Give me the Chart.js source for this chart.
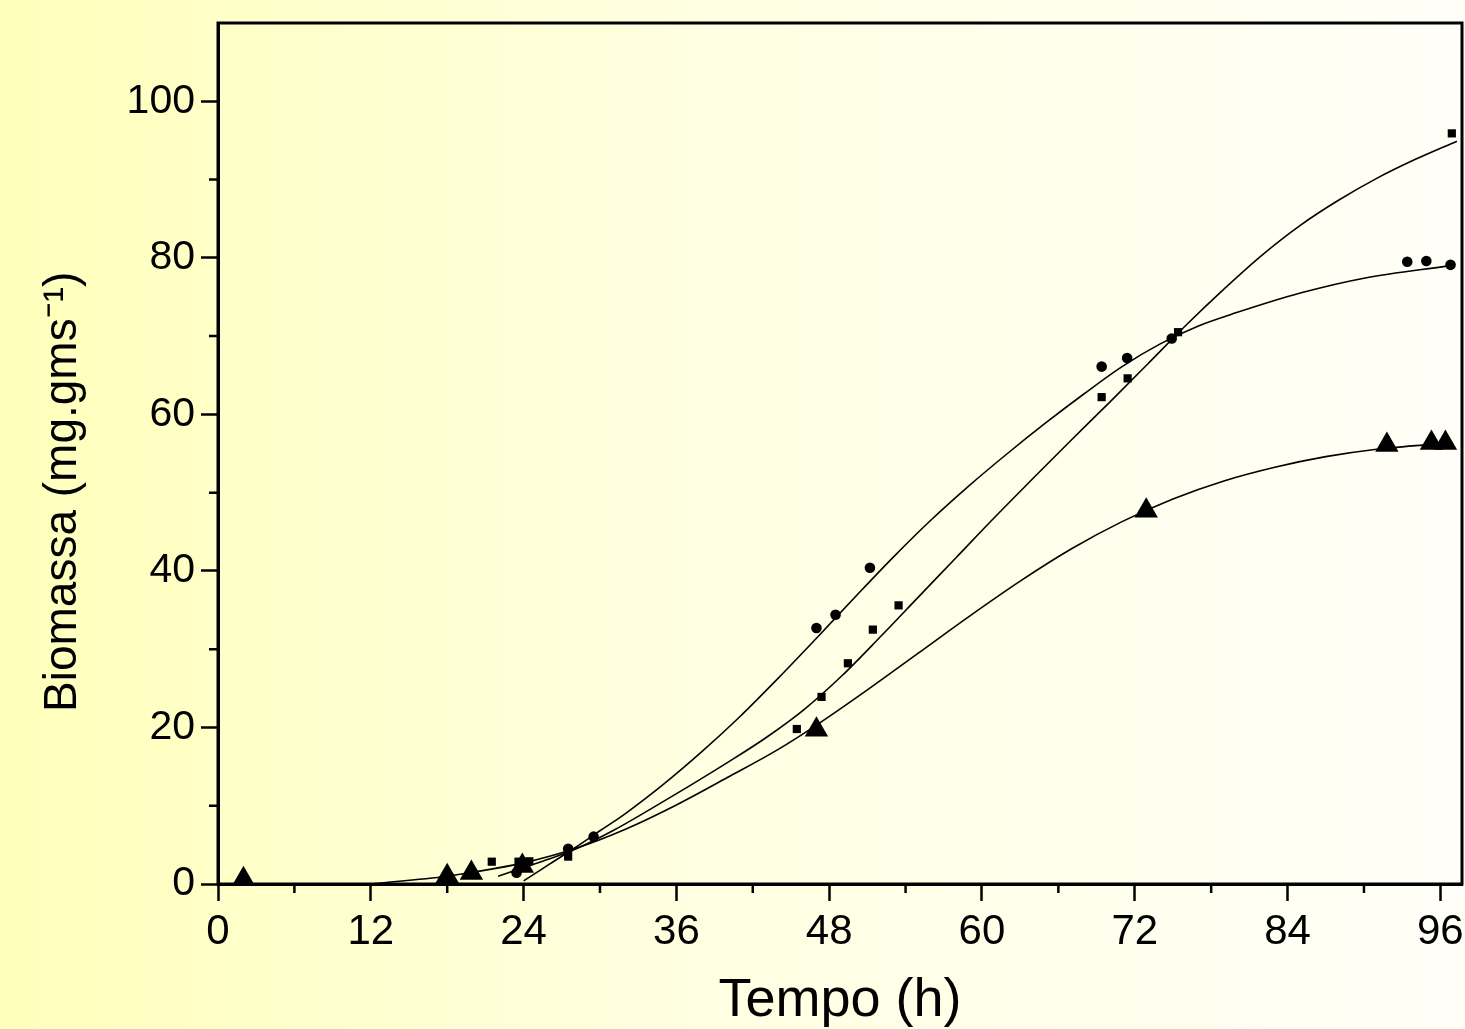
<!DOCTYPE html>
<html><head><meta charset="utf-8">
<script src="https://cdn.jsdelivr.net/npm/chart.js@4.4.1/dist/chart.umd.min.js"></script>
<style>
html,body{margin:0;padding:0;}
body{width:1465px;height:1029px;overflow:hidden;background:linear-gradient(90deg,#ffffbb 0%,#ffffe0 45%,#fffff8 100%);}
#wrap{position:relative;width:1465px;height:1029px;}
</style></head><body>
<div id="wrap"><canvas id="c" width="1465" height="1029"></canvas></div>
<script>
// ---- observed points ----
const circleX = [23.45, 27.5, 29.5, 47.0, 48.5, 51.2, 69.4, 71.4, 74.9, 93.4, 94.9, 96.8];
const circleY = [1.45, 4.5, 6.05, 32.7, 34.4, 40.4, 66.1, 67.2, 69.7, 79.5, 79.6, 79.1];
const squareX = [21.5, 23.6, 24.45, 27.5, 45.46, 47.4, 49.47, 51.43, 53.45, 69.4, 71.44, 75.4, 96.9];
const squareY = [2.85, 2.85, 2.9, 3.5, 19.8, 23.9, 28.2, 32.5, 35.6, 62.2, 64.6, 70.5, 95.9];
const triX = [2.0, 18.0, 19.9, 23.9, 47.0, 72.9, 91.8, 95.3, 96.4];
const triY = [0.6, 1.0, 1.4, 2.3, 19.7, 47.7, 56.1, 56.35, 56.35];

// ---- fitted curves ----
const fitAX = [24, 26, 28, 30, 32, 35, 38, 41, 44, 47, 50, 53, 56, 59, 62, 65, 68, 71, 74, 77, 80, 85, 90, 96.8];
const fitAY = [0.4, 2.5, 4.6, 6.8, 9.0, 12.75, 16.9, 21.4, 26.3, 31.4, 36.6, 41.7, 46.5, 50.9, 55.0, 58.9, 62.6, 66.1, 69.0, 71.3, 73.0, 75.5, 77.4, 79.0];
const fitBX = [22, 24, 26, 28, 31, 34, 37, 40, 43, 46, 49, 52, 55, 58, 61, 64, 67, 70, 73, 76, 79, 82, 85, 88, 91, 94, 97.3];
const fitBY = [1.0, 2.1, 3.2, 4.4, 6.8, 9.6, 12.5, 15.5, 18.65, 22.25, 26.6, 31.55, 36.65, 41.75, 46.85, 51.8, 56.7, 61.5, 66.4, 71.35, 76.0, 80.35, 84.15, 87.35, 90.15, 92.55, 94.9];
const fitCX = [12, 18, 20, 24, 28, 32, 36, 40, 44, 47, 51, 55, 59, 63, 67, 71, 75, 79, 83, 87, 91, 96.5];
const fitCY = [0, 1.0, 1.5, 2.7, 4.5, 7.0, 10.1, 13.6, 17.2, 20.3, 24.8, 29.5, 34.2, 38.7, 42.8, 46.3, 49.2, 51.5, 53.25, 54.6, 55.55, 56.3];

// ---- axes ----
const xMajorTicks = [0, 12, 24, 36, 48, 60, 72, 84, 96];
const xMinorTicks = [6, 18, 30, 42, 54, 66, 78, 90];
const yMajorTicks = [0, 20, 40, 60, 80, 100];
const yMinorTicks = [10, 30, 50, 70, 90];
const xTitle = 'Tempo (h)';
const yTitle = 'Biomassa (mg.gms\u207B\u00B9)      ';

const pts = (xs, ys) => xs.map((x, i) => ({x, y: ys[i]}));
const FONT = "'Liberation Sans', Arial, sans-serif";

const framePlugin = {
  id: 'frame',
  afterDraw(chart) {
    const {ctx, chartArea: a, scales} = chart;
    ctx.save();
    ctx.strokeStyle = '#000';
    ctx.lineWidth = 3;
    ctx.strokeRect(a.left, a.top, a.right - a.left, a.bottom - a.top);
    ctx.lineWidth = 2.5;
    ctx.beginPath();
    xMinorTicks.forEach(v => {
      const px = scales.x.getPixelForValue(v);
      ctx.moveTo(px, a.bottom); ctx.lineTo(px, a.bottom + 9);
    });
    yMinorTicks.forEach(v => {
      const py = scales.y.getPixelForValue(v);
      ctx.moveTo(a.left, py); ctx.lineTo(a.left - 9, py);
    });
    ctx.stroke();
    ctx.restore();
  }
};

const lineDs = (xs, ys) => ({
  type: 'line', data: pts(xs, ys), borderColor: '#000', borderWidth: 1.6,
  pointRadius: 0, fill: false, cubicInterpolationMode: 'monotone', order: 2
});
const markDs = (xs, ys, style, r) => ({
  type: 'scatter', data: pts(xs, ys), showLine: false, pointStyle: style,
  pointRadius: r, backgroundColor: '#000', borderColor: '#000', borderWidth: 0, order: 1
});

new Chart(document.getElementById('c'), {
  data: {
    datasets: [
      lineDs(fitAX, fitAY), lineDs(fitBX, fitBY), lineDs(fitCX, fitCY),
      markDs(circleX, circleY, 'circle', 5.3),
      markDs(squareX, squareY, 'rect', 5.8),
      markDs(triX, triY, 'triangle', 13.5)
    ]
  },
  options: {
    responsive: false, animation: false,
    layout: {autoPadding: false, padding: {top: 23, right: 3, left: 0, bottom: 0}},
    plugins: {legend: {display: false}, tooltip: {enabled: false}},
    scales: {
      x: {
        type: 'linear', min: 0, max: 97.7,
        afterFit: s => { s.height = 145; s.paddingLeft = 0; s.paddingRight = 0; },
        afterBuildTicks: s => { s.ticks = xMajorTicks.map(v => ({value: v})); },
        ticks: {font: {family: FONT, size: 42}, color: '#000', padding: 6, maxRotation: 0, includeBounds: false},
        grid: {drawOnChartArea: false, drawTicks: true, tickLength: 17, tickWidth: 2.5, tickColor: '#000'},
        border: {color: '#000', width: 3},
        title: {display: true, text: xTitle, color: '#000', font: {family: FONT, size: 54, lineHeight: 1.0}, padding: {top: 0, bottom: 1}}
      },
      y: {
        type: 'linear', min: 0, max: 110,
        afterFit: s => { s.width = 218; s.paddingTop = 0; s.paddingBottom = 0; },
        afterBuildTicks: s => { s.ticks = yMajorTicks.map(v => ({value: v})); },
        ticks: {font: {family: FONT, size: 41}, color: '#000', padding: 6, includeBounds: false},
        grid: {drawOnChartArea: false, drawTicks: true, tickLength: 17, tickWidth: 2.5, tickColor: '#000'},
        border: {color: '#000', width: 3},
        title: {display: true, text: yTitle, color: '#000', font: {family: FONT, size: 46}, padding: {top: 36, bottom: 0}}
      }
    }
  },
  plugins: [framePlugin]
});
</script>
</body></html>
